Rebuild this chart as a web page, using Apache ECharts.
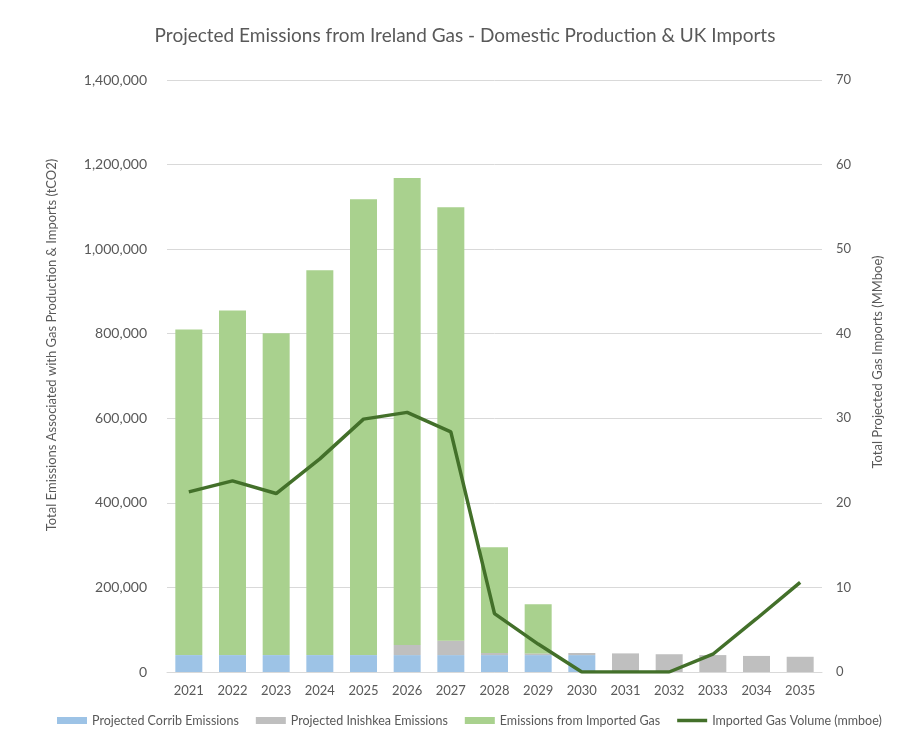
<!DOCTYPE html>
<html>
<head>
<meta charset="utf-8">
<script src="https://cdn.jsdelivr.net/npm/echarts@6/dist/echarts.min.js"></script>
<style>
  html, body { margin: 0; padding: 0; background: #fff; }
  #chart { width: 905px; height: 742px; }
</style>
</head>
<body>
<div id="chart"></div>
<script>
// Years on the category axis
const years = ['2021','2022','2023','2024','2025','2026','2027','2028','2029','2030','2031','2032','2033','2034','2035'];

// Emissions (tCO2), stacked bars
const corribEmissions   = [40000, 40000, 40000, 40000, 40000, 40000, 40000, 40000, 40000, 40000, 0, 0, 0, 0, 0];
const inishkeaEmissions = [0, 0, 0, 0, 0, 24000, 34000, 5000, 4000, 5000, 44000, 42000, 40000, 38000, 36000];
const importedEmissions = [770000, 815000, 761000, 910000, 1078000, 1104000, 1025000, 250000, 116000, 0, 0, 0, 0, 0, 0];

// Imported gas volume (MMboe), right axis
const importedVolume = [21.3, 22.6, 21.1, 25.2, 29.9, 30.7, 28.4, 6.9, 3.3, 0, 0, 0, 2.1, 6.3, 10.6];

const FONT = 'Lato, "Open Sans", sans-serif';
const TXT = '#595959';

const chart = echarts.init(document.getElementById('chart'));
chart.setOption({
  animation: false,
  textStyle: { fontFamily: FONT, color: TXT },
  title: {
    text: 'Projected Emissions from Ireland Gas - Domestic Production & UK Imports',
    left: 460, top: 21, textAlign: 'center',
    textStyle: { fontFamily: FONT, fontSize: 19, fontWeight: 'normal', color: TXT }
  },
  legend: {
    bottom: 10, left: 52,
    itemWidth: 30, itemHeight: 7, itemGap: 17,
    textStyle: { fontFamily: FONT, fontSize: 12.5, color: TXT },
    data: [
      { name: 'Projected Corrib Emissions', icon: 'rect' },
      { name: 'Projected Inishkea Emissions', icon: 'rect' },
      { name: 'Emissions from Imported Gas', icon: 'rect' },
      { name: 'Imported Gas Volume (mmboe)', icon: 'path://M0,0 L30,0 L30,3.5 L0,3.5 Z' }
    ]
  },
  grid: { left: 167, right: 83, top: 80, bottom: 70 },
  xAxis: {
    type: 'category', data: years,
    axisTick: { show: false },
    axisLine: { lineStyle: { color: '#d9d9d9' } },
    axisLabel: { fontFamily: FONT, fontSize: 13, color: TXT, margin: 12 }
  },
  yAxis: [
    {
      type: 'value', min: 0, max: 1400000, interval: 200000,
      axisLabel: {
        fontFamily: FONT, fontSize: 14, color: TXT, margin: 20,
        formatter: v => v.toLocaleString('en-US')
      },
      splitLine: { lineStyle: { color: '#d9d9d9' } },
      axisLine: { show: false }, axisTick: { show: false }
    },
    {
      type: 'value', min: 0, max: 70, interval: 10,
      axisLabel: { fontFamily: FONT, fontSize: 13, color: TXT, margin: 14 },
      splitLine: { show: false },
      axisLine: { show: false }, axisTick: { show: false }
    }
  ],
  graphic: [
    {
      type: 'text', x: 52, y: 345, rotation: Math.PI / 2,
      style: {
        text: 'Total Emissions Associated with Gas Production & Imports (tCO2)',
        font: '13px ' + FONT, fill: TXT, align: 'center', verticalAlign: 'middle'
      }
    },
    {
      type: 'text', x: 878, y: 362, rotation: Math.PI / 2,
      style: {
        text: 'Total Projected Gas Imports (MMboe)',
        font: '13px ' + FONT, fill: TXT, align: 'center', verticalAlign: 'middle'
      }
    }
  ],
  series: [
    {
      name: 'Projected Corrib Emissions', type: 'bar', stack: 'em',
      barWidth: 27, data: corribEmissions, itemStyle: { color: '#9dc3e6' }
    },
    {
      name: 'Projected Inishkea Emissions', type: 'bar', stack: 'em',
      barWidth: 27, data: inishkeaEmissions, itemStyle: { color: '#bfbfbf' }
    },
    {
      name: 'Emissions from Imported Gas', type: 'bar', stack: 'em',
      barWidth: 27, data: importedEmissions, itemStyle: { color: '#a9d18e' }
    },
    {
      name: 'Imported Gas Volume (mmboe)', type: 'line', yAxisIndex: 1,
      data: importedVolume, symbol: 'none',
      lineStyle: { color: '#43702a', width: 3.5 }, itemStyle: { color: '#43702a' }
    }
  ]
});
</script>
</body>
</html>
